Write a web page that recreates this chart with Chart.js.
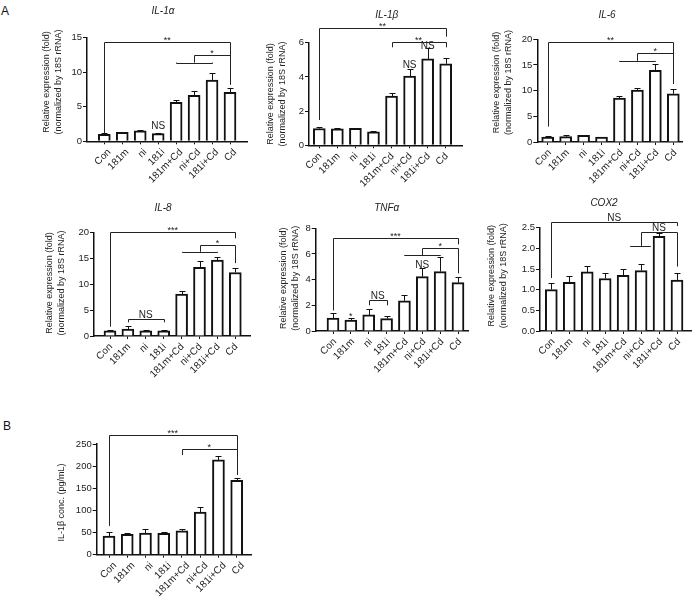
<!DOCTYPE html>
<html>
<head>
<meta charset="utf-8">
<script src="https://cdn.jsdelivr.net/npm/chart.js@4.4.1/dist/chart.umd.min.js"></script>
<style>
  body { margin: 0; background: #fff; }
  #fig { position: relative; width: 693px; height: 597px; overflow: hidden; font-family: "Liberation Sans", Arial, sans-serif; }
  #fig canvas { position: absolute; }
  .tag { position: absolute; font-size: 12px; color: #111; }
</style>
</head>
<body>
<div id="fig">
  <div class="tag" style="left:1px;top:4px">A</div>
  <div class="tag" style="left:3px;top:419px">B</div>
  <canvas id="c1"></canvas>
  <canvas id="c2"></canvas>
  <canvas id="c3"></canvas>
  <canvas id="c4"></canvas>
  <canvas id="c5"></canvas>
  <canvas id="c6"></canvas>
  <canvas id="c7"></canvas>
</div>
<script>
// groups on the x axis (same for every panel)
const categories = ["Con", "181m", "ni", "181i", "181m+Cd", "ni+Cd", "181i+Cd", "Cd"];

// axis titles
const foldTitle = ["Relative expression (fold)", "(normalized by 18S rRNA)"];
const elisaTitle = ["IL-1\u03b2 conc. (pg/mL)"];

// IL-1a
const il1aMean = [1.0, 1.3, 1.5, 1.1, 5.65, 6.67, 8.88, 7.1];
const il1aSem = [0.15, 0.08, 0.1, 0.08, 0.35, 0.66, 0.97, 0.58];
const il1aTicks = [0, 5, 10, 15];
const il1aBrackets = [
  { from: 0, to: 7, level: 14.35, footL: 1.2, footR: 8.2, label: "**" },
  { from: 5, to: 7, level: 12.5, footL: 11.4, footR: 8.2, label: "*" },
  { from: 4, to: 6, level: 11.4, footL: 11.4, footR: 11.4, label: "" }
];
const il1aNotes = [{ at: 3, level: 1.75, label: "NS" }];

// IL-1b
const il1bMean = [0.98, 0.96, 0.99, 0.79, 2.88, 4.05, 5.05, 4.77];
const il1bSem = [0.07, 0.05, 0.05, 0.07, 0.16, 0.4, 0.62, 0.32];
const il1bTicks = [0, 2, 4, 6];
const il1bBrackets = [
  { from: 0, to: 7, level: 6.88, footL: 1.48, footR: 6.35, label: "**" },
  { from: 4, to: 7, level: 6.06, footL: 5.73, footR: 5.73, label: "**" }
];
const il1bNotes = [{ at: 5, level: 4.54, label: "NS" }, { at: 6, level: 5.61, label: "NS" }];

// IL-6
const il6Mean = [0.97, 1.04, 1.3, 0.97, 8.57, 10.1, 13.96, 9.4];
const il6Sem = [0.2, 0.32, 0.15, 0.1, 0.45, 0.4, 1.15, 0.9];
const il6Ticks = [0, 5, 10, 15, 20];
const il6Brackets = [
  { from: 0, to: 7, level: 19.5, footL: 3.0, footR: 11.3, label: "**" },
  { from: 5, to: 7, level: 17.3, footL: 15.8, footR: 11.3, label: "*" },
  { from: 4, to: 6, level: 15.8, footL: 15.8, footR: 15.8, label: "" }
];
const il6Notes = [];

// IL-8
const il8Mean = [1.0, 1.35, 1.0, 1.0, 8.1, 13.3, 14.7, 12.3];
const il8Sem = [0.12, 0.55, 0.12, 0.2, 0.6, 1.2, 0.5, 0.8];
const il8Ticks = [0, 5, 10, 15, 20];
const il8Brackets = [
  { from: 0, to: 7, level: 20.2, footL: 1.8, footR: 18.9, label: "***" },
  { from: 5, to: 7, level: 17.6, footL: 16.3, footR: 14.1, label: "*" },
  { from: 4, to: 6, level: 16.3, footL: 16.3, footR: 16.3, label: "" },
  { from: 1, to: 3, level: 3.3, footL: 2.65, footR: 2.65, label: "NS" }
];
const il8Notes = [];

// TNFa
const tnfMean = [1.01, 0.86, 1.25, 0.96, 2.35, 4.23, 4.63, 3.77];
const tnfSem = [0.42, 0.18, 0.44, 0.18, 0.43, 0.64, 1.16, 0.41];
const tnfTicks = [0, 2, 4, 6, 8];
const tnfBrackets = [
  { from: 0, to: 7, level: 7.22, footL: 1.6, footR: 6.75, label: "***" },
  { from: 5, to: 7, level: 6.44, footL: 5.92, footR: 4.49, label: "*" },
  { from: 4, to: 6, level: 5.92, footL: 5.92, footR: 5.92, label: "" },
  { from: 2, to: 3, level: 2.4, footL: 2.0, footR: 2.0, label: "NS" }
];
const tnfNotes = [{ at: 1, level: 0.95, label: "*" }, { at: 5, level: 4.88, label: "NS" }];

// COX2
const cox2Mean = [1.0, 1.18, 1.43, 1.27, 1.35, 1.46, 2.29, 1.23];
const cox2Sem = [0.15, 0.14, 0.15, 0.13, 0.16, 0.15, 0.07, 0.17];
const cox2Ticks = [0, 0.5, 1, 1.5, 2, 2.5];
const cox2Brackets = [
  { from: 0, to: 7, level: 2.63, footL: 1.28, footR: 2.54, label: "NS" },
  { from: 5, to: 7, level: 2.40, footL: 2.06, footR: 1.56, label: "NS" },
  { from: 4.37, to: 5.52, level: 2.06, footL: 2.06, footR: 2.06, label: "" }
];
const cox2Notes = [];

// IL-1b ELISA (panel B)
const elisaMean = [42, 46, 49, 48, 54, 96, 214, 168];
const elisaSem = [8.5, 2.5, 10, 3, 4, 12, 8, 5];
const elisaTicks = [0, 50, 100, 150, 200, 250];
const elisaBrackets = [
  { from: 0, to: 7, level: 270, footL: 65, footR: 180, label: "***" },
  { from: 4, to: 7, level: 238, footL: 225, footR: 225, label: "*" }
];
const elisaNotes = [];

const FONT = "'Liberation Sans', Arial, sans-serif";
Chart.defaults.font.family = FONT;
Chart.defaults.color = "#222";

// page layout of each panel: canvas box, plot area, first/last bar centre
const panels = [
  { id: "c1", box: [0, 0, 255, 190], area: [87, 37.7, 247, 141.3], first: 104.3, last: 230, shift: 5,
    title: "IL-1\u03b1", titleAt: [163, 11], yTitle: foldTitle, yTitleAt: [46.7, 82],
    mean: il1aMean, sem: il1aSem, ticks: il1aTicks, brackets: il1aBrackets, notes: il1aNotes },
  { id: "c2", box: [255, 0, 215, 190], area: [309, 42.7, 462, 145.3], first: 319.3, last: 445.7, shift: 1,
    title: "IL-1\u03b2", titleAt: [386.7, 15], yTitle: foldTitle, yTitleAt: [270.7, 94],
    mean: il1bMean, sem: il1bSem, ticks: il1bTicks, brackets: il1bBrackets, notes: il1bNotes },
  { id: "c3", box: [470, 0, 223, 190], area: [537.3, 39.3, 682, 142], first: 547.7, last: 673.3, shift: 2,
    title: "IL-6", titleAt: [607, 15], yTitle: foldTitle, yTitleAt: [496.5, 82.5],
    mean: il6Mean, sem: il6Sem, ticks: il6Ticks, brackets: il6Brackets, notes: il6Notes },
  { id: "c4", box: [0, 190, 255, 200], area: [94, 232.7, 250, 336], first: 110, last: 235.3, shift: 1,
    title: "IL-8", titleAt: [163, 208], yTitle: foldTitle, yTitleAt: [50, 283],
    mean: il8Mean, sem: il8Sem, ticks: il8Ticks, brackets: il8Brackets, notes: il8Notes },
  { id: "c5", box: [255, 190, 215, 200], area: [315.7, 228.3, 468, 331], first: 333, last: 458, shift: 2,
    title: "TNF\u03b1", titleAt: [386.7, 208], yTitle: foldTitle, yTitleAt: [283.3, 278.3],
    mean: tnfMean, sem: tnfSem, ticks: tnfTicks, brackets: tnfBrackets, notes: tnfNotes },
  { id: "c6", box: [470, 190, 223, 200], area: [540, 227.7, 691, 331], first: 551.3, last: 677, shift: 2,
    title: "COX2", titleAt: [604, 203.3], yTitle: foldTitle, yTitleAt: [491.7, 275.8], decimals: 1,
    mean: cox2Mean, sem: cox2Sem, ticks: cox2Ticks, brackets: cox2Brackets, notes: cox2Notes },
  { id: "c7", box: [0, 390, 300, 207], area: [96.7, 444, 251, 554.7], first: 109, last: 236.7, shift: 6,
    title: "", titleAt: [0, 0], yTitle: elisaTitle, yTitleAt: [61.7, 502.5],
    mean: elisaMean, sem: elisaSem, ticks: elisaTicks, brackets: elisaBrackets, notes: elisaNotes }
];

// error bars, brackets, star/NS labels and titles
function decor(p) {
  const bx = p.box[0], by = p.box[1];
  return {
    id: "decor",
    afterDatasetsDraw(chart) {
      const ctx = chart.ctx, xs = chart.scales.x, ys = chart.scales.y;
      ctx.save();
      ctx.strokeStyle = "#111";
      ctx.lineWidth = 1;
      p.mean.forEach((m, i) => {
        const x = Math.round(xs.getPixelForValue(i)) + 0.5;
        const y0 = ys.getPixelForValue(m);
        const y1 = Math.round(ys.getPixelForValue(m + p.sem[i])) + 0.5;
        ctx.beginPath();
        ctx.moveTo(x, y0);
        ctx.lineTo(x, y1);
        ctx.moveTo(x - 3, y1);
        ctx.lineTo(x + 3, y1);
        ctx.stroke();
      });
      ctx.restore();
    },
    afterDraw(chart) {
      const ctx = chart.ctx, xs = chart.scales.x, ys = chart.scales.y;
      const X = v => xs.getPixelForValue(v), Y = v => ys.getPixelForValue(v);
      ctx.save();
      ctx.strokeStyle = "#222";
      ctx.fillStyle = "#222";
      ctx.lineWidth = 1;
      ctx.textAlign = "center";
      ctx.textBaseline = "alphabetic";
      p.brackets.forEach(b => {
        const xa = Math.round(X(b.from)) + 0.5, xb = Math.round(X(b.to)) + 0.5;
        const yl = Math.round(Y(b.level)) + 0.5;
        ctx.beginPath();
        ctx.moveTo(xa, Y(b.footL));
        ctx.lineTo(xa, yl);
        ctx.lineTo(xb, yl);
        ctx.lineTo(xb, Y(b.footR));
        ctx.stroke();
        if (b.label) {
          const star = b.label.indexOf("*") >= 0;
          ctx.font = (star ? "9px " : "10px ") + FONT;
          ctx.fillText(b.label, X((b.from + b.to) / 2), yl - (star ? 0 : 2));
        }
      });
      p.notes.forEach(n => {
        const star = n.label.indexOf("*") >= 0;
        ctx.font = (star ? "9px " : "10px ") + FONT;
        ctx.fillText(n.label, X(n.at), Y(n.level));
      });
      if (p.title) {
        ctx.font = "italic 10px " + FONT;
        ctx.textBaseline = "middle";
        ctx.fillText(p.title, p.titleAt[0] - bx, p.titleAt[1] - by);
      }
      // y axis title, rotated
      ctx.font = "9px " + FONT;
      ctx.textBaseline = "middle";
      ctx.translate(p.yTitleAt[0] - bx, p.yTitleAt[1] - by);
      ctx.rotate(-Math.PI / 2);
      p.yTitle.forEach((line, k) => ctx.fillText(line, 0, k * 11.8));
      ctx.restore();
    }
  };
}

function makeChart(p) {
  const [bx, by, bw, bh] = p.box;
  const [l, t, r, b] = p.area;
  const step = (p.last - p.first) / (categories.length - 1);
  const canvas = document.getElementById(p.id);
  canvas.width = bw;
  canvas.height = bh;
  canvas.style.left = bx + "px";
  canvas.style.top = by + "px";

  new Chart(canvas, {
    type: "bar",
    data: {
      datasets: [{
        data: p.mean.map((v, i) => ({ x: i, y: v })),
        backgroundColor: "#fff",
        borderColor: "#111",
        borderWidth: 2,
        barThickness: 12
      }]
    },
    options: {
      responsive: false,
      animation: false,
      layout: { padding: { top: t - by, right: bx + bw - r, left: 0, bottom: 0 } },
      plugins: { legend: { display: false }, tooltip: { enabled: false } },
      scales: {
        x: {
          type: "linear",
          min: -(p.first - l) / step,
          max: categories.length - 1 + (r - p.last) / step,
          offset: false,
          grid: { display: true, offset: false, drawOnChartArea: false, drawTicks: true, tickLength: 3, color: "#111" },
          border: { display: true, color: "#111", width: 1.5 },
          afterBuildTicks: s => { s.ticks = categories.map((c, i) => ({ value: i })); },
          afterFit: s => { s.height = by + bh - b; },
          ticks: {
            autoSkip: false, maxRotation: 45, minRotation: 45, padding: 2,
            labelOffset: p.shift,
            font: { size: 10 },
            callback: v => categories[v]
          }
        },
        y: {
          min: 0,
          max: p.ticks[p.ticks.length - 1],
          grid: { display: true, drawOnChartArea: false, drawTicks: true, tickLength: 4, color: "#111" },
          border: { display: true, color: "#111", width: 1.5 },
          afterBuildTicks: s => { s.ticks = p.ticks.map(v => ({ value: v })); },
          afterFit: s => { s.width = l - bx; },
          ticks: {
            padding: 1,
            font: { size: 9.5 },
            callback: v => p.decimals ? v.toFixed(p.decimals) : String(v)
          }
        }
      }
    },
    plugins: [decor(p)]
  });
}

panels.forEach(makeChart);
</script>
</body>
</html>
